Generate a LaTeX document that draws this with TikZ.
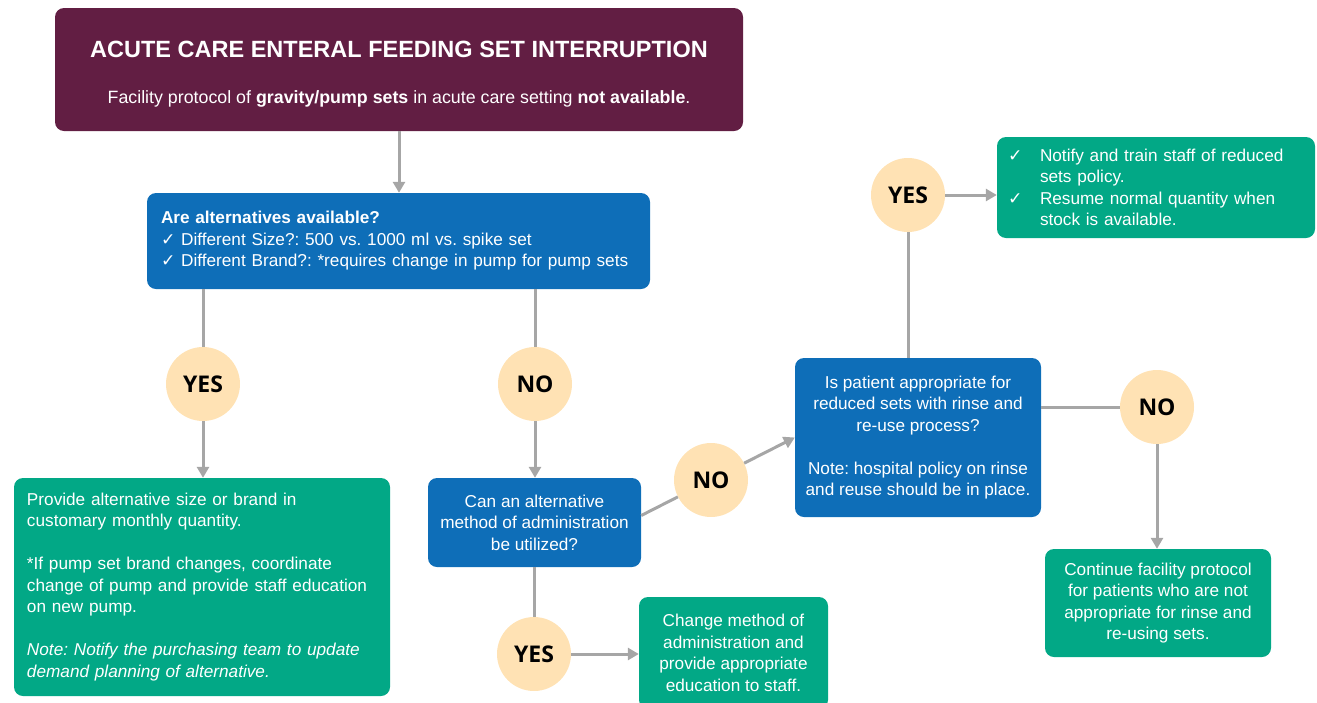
\documentclass[tikz,border=0pt]{standalone}
\usepackage{fontspec}
\setmainfont{Liberation Sans}
\newfontfamily\ckfont{DejaVu Sans}
\newfontfamily\ynfont{Open Sans}
\usetikzlibrary{arrows.meta}
\definecolor{plum}{HTML}{621E43}
\definecolor{qblue}{HTML}{0E6EB8}
\definecolor{agreen}{HTML}{02A886}
\definecolor{peach}{HTML}{FFE2B4}
\definecolor{conn}{HTML}{A6A6A6}
\newcommand{\ck}{{\ckfont\char"2713}}
\frenchspacing

\begin{document}
\begin{tikzpicture}[x=1pt,y=-1pt,
  box/.style ={rounded corners=9pt, text=white, inner sep=0pt, font=\fontsize{17.2}{21.5}\selectfont},
  ask/.style ={box, fill=qblue},
  act/.style ={box, fill=agreen},
  answer/.style ={circle, fill=peach, minimum size=74pt, inner sep=0pt, font=\ynfont\bfseries\fontsize{23}{26}\selectfont},
  link/.style ={draw=conn, line width=3pt},
  arrow/.style ={link, -{Triangle[length=11pt,width=12pt]}}]
\useasboundingbox (0,0) rectangle (1317,702);
\node[box, fill=plum, minimum width=688pt, minimum height=123pt, align=center] (top) at (399,69.5)
  {\rule{0pt}{26pt}{\bfseries\fontsize{23.5}{26}\selectfont ACUTE CARE ENTERAL FEEDING SET INTERRUPTION}\\[25pt]
   {\fontsize{17.8}{21.5}\selectfont Facility protocol of \textbf{gravity/pump sets} in acute care setting \textbf{not available}.}};
\node[ask, minimum width=503pt, minimum height=96pt, text width=475pt, align=left] (alts) at (398.5,241)
  {\textbf{Are alternatives available?}\\
   \ck\ Different Size?: 500 vs. 1000 ml vs. spike set\\
   \ck\ Different Brand?: *requires change in pump for pump sets};
\node[act, minimum width=376pt, minimum height=218pt, text width=350pt, align=left] (alt) at (202,587)
  {Provide alternative size or brand in\\ customary monthly quantity.\\[21.5pt]
   *If pump set brand changes, coordinate\\ change of pump and provide staff education\\ on new pump.\\[21.5pt]
   \itshape Note: Notify the purchasing team to update\\ demand planning of alternative.};
\node[ask, minimum width=213pt, minimum height=89pt, align=center] (method) at (534.5,522.5)
  {Can an alternative\\ method of administration\\ be utilized?};
\node[act, minimum width=189pt, minimum height=112pt, align=center] (change) at (733.5,653)
  {Change method of\\ administration and\\ provide appropriate\\ education to staff.};
\node[ask, minimum width=246pt, minimum height=159pt, align=center] (reuse) at (918,437.5)
  {Is patient appropriate for\\ reduced sets with rinse and\\ re-use process?\\[21.5pt]
   Note: hospital policy on rinse\\ and reuse should be in place.};
\node[act, minimum width=318pt, minimum height=101pt, text width=296pt, align=left] (train) at (1156,187.5)
  {\makebox[32pt][l]{\ck}Notify and train staff of reduced\\ \hspace*{32pt}sets policy.\\
   \makebox[32pt][l]{\ck}Resume normal quantity when\\ \hspace*{32pt}stock is available.};
\node[act, minimum width=226pt, minimum height=108pt, align=center] (keep) at (1158,603)
  {Continue facility protocol\\ for patients who are not\\ appropriate for rinse and\\ re-using sets.};
\node[answer] (yes1) at (203,384) {YES};
\node[answer] (no1) at (535,384) {NO};
\node[answer] (no2) at (711,480) {NO};
\node[answer] (yes2) at (534,654) {YES};
\node[answer] (yes3) at (908,195) {YES};
\node[answer] (no3) at (1157,407) {NO};
\draw[arrow] (top.south) -- (top.south |- alts.north);
\draw[link] (alts.south -| yes1) -- (yes1);
\draw[arrow] (yes1) -- (yes1 |- alt.north);
\draw[link] (alts.south -| no1) -- (no1);
\draw[arrow] (no1) -- (no1 |- method.north);
\draw[link] (method.south -| yes2) -- (yes2);
\draw[arrow] (yes2) -- (yes2 -| change.west);
\draw[link] ([yshift=7pt]method.east) -- (no2);
\draw[arrow] (no2) -- (reuse.west);
\draw[link] (reuse.north -| yes3) -- (yes3);
\draw[arrow] (yes3) -- (yes3 -| train.west);
\draw[link] (reuse.east |- no3) -- (no3);
\draw[arrow] (no3) -- (no3 |- keep.north);
\end{tikzpicture}
\end{document}
